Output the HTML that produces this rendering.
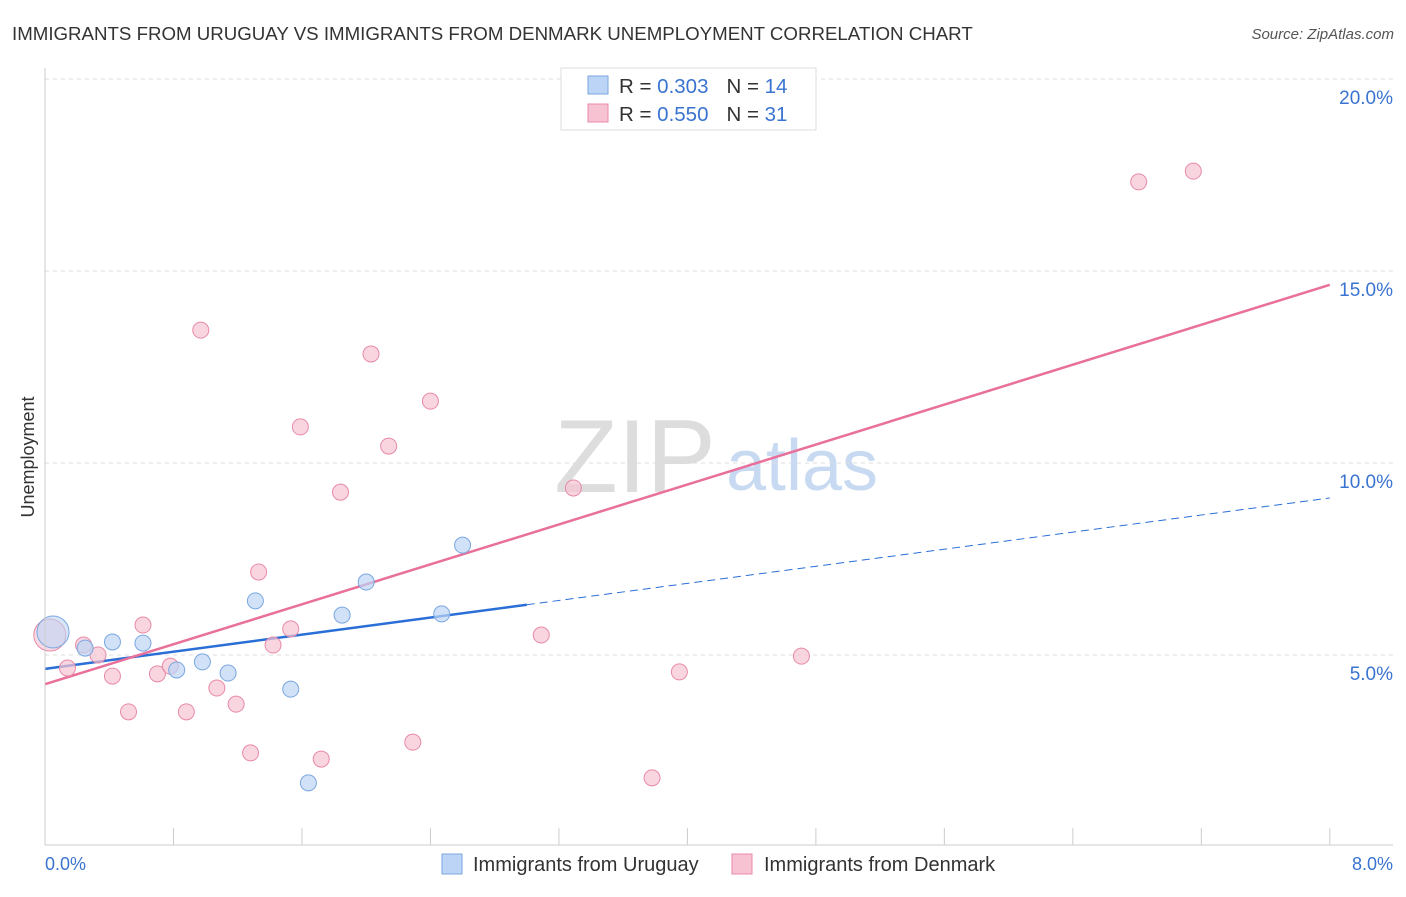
<!DOCTYPE html>
<html><head><meta charset="utf-8"><style>
body{margin:0;background:#fff;font-family:"Liberation Sans",sans-serif;}
svg text{font-family:"Liberation Sans",sans-serif;}
</style></head><body>
<svg width="1406" height="892" xmlns="http://www.w3.org/2000/svg">
<text x="12" y="40" font-size="18.7" fill="#333">IMMIGRANTS FROM URUGUAY VS IMMIGRANTS FROM DENMARK UNEMPLOYMENT CORRELATION CHART</text>
<text x="1394" y="39" font-size="15" fill="#555" font-style="italic" text-anchor="end">Source: ZipAtlas.com</text>
<text x="635" y="492" font-size="104" fill="#ddd" font-family="Liberation Serif" text-anchor="middle">ZIP</text>
<text x="802" y="490" font-size="72" fill="#c8daf2" text-anchor="middle">atlas</text>
<text transform="translate(34,457) rotate(-90)" font-size="18" fill="#333" text-anchor="middle">Unemployment</text>
<g id="grid"></g><g id="ticks"></g><g id="lines"></g><g id="pts"></g>
<line x1="45" y1="68" x2="45" y2="845" stroke="#ccc"/>
<line x1="45" y1="845" x2="1393" y2="845" stroke="#ccc"/>
<text x="45" y="870" font-size="18" fill="#3a74d0">0.0%</text>
<text x="1393" y="870" font-size="18" fill="#3a74d0" text-anchor="end">8.0%</text>
<g>
<rect x="561" y="68" width="255" height="62" fill="#fff" stroke="#ddd"/>
<rect x="588" y="76" width="20" height="18" fill="#bcd4f5" stroke="#7aa7e0"/>
<rect x="588" y="104" width="20" height="18" fill="#f7c3d3" stroke="#e88aa8"/>
<text x="619" y="93" font-size="20.5" fill="#333">R = <tspan fill="#3a74d0">0.303</tspan><tspan dx="18">N = </tspan><tspan fill="#3a74d0">14</tspan></text>
<text x="619" y="121" font-size="20.5" fill="#333">R = <tspan fill="#3a74d0">0.550</tspan><tspan dx="18">N = </tspan><tspan fill="#3a74d0">31</tspan></text>
</g>
<g>
<rect x="442" y="854" width="20" height="20" fill="#bcd4f5" stroke="#7aa7e0"/>
<text x="473" y="871" font-size="20" fill="#333">Immigrants from Uruguay</text>
<rect x="732" y="854" width="20" height="20" fill="#f7c3d3" stroke="#e88aa8"/>
<text x="764" y="871" font-size="20" fill="#333">Immigrants from Denmark</text>
</g>
</svg>
<script>
const yTicks=[5,10,15,20];
const yTickLabels=["5.0%","10.0%","15.0%","20.0%"];
const blueX=[0.05,0.25,0.42,0.61,0.82,0.98,1.14,1.31,1.53,1.64,1.85,2.00,2.47,2.60];
const blueY=[5.60,5.18,5.34,5.31,4.61,4.82,4.53,6.41,4.11,1.67,6.04,6.90,6.07,7.86];
const pinkX=[0.03,0.14,0.24,0.33,0.42,0.52,0.61,0.70,0.78,0.88,0.97,1.07,1.19,1.28,1.33,1.42,1.53,1.59,1.72,1.84,2.03,2.14,2.29,2.40,3.09,3.29,3.78,3.95,4.71,6.81,7.15];
const pinkY=[5.52,4.66,5.26,5.00,4.45,3.52,5.78,4.51,4.71,3.52,13.46,4.14,3.72,2.45,7.16,5.26,5.68,10.94,2.29,9.24,12.84,10.44,2.73,11.61,5.52,9.35,1.80,4.56,4.97,17.32,17.60];
const blueTrend=[4.64,9.09];
const pinkTrend=[4.24,14.64];
const xs=v=>45+v*160.6, ys=v=>847-v*38.4;
const NS="http://www.w3.org/2000/svg";
function mk(tag,attrs,parent){const e=document.createElementNS(NS,tag);for(const k in attrs)e.setAttribute(k,attrs[k]);document.getElementById(parent).appendChild(e);return e;}
yTicks.forEach((t,i)=>{
 const g=mk('line',{x1:45,x2:1393,y1:ys(t),y2:ys(t),stroke:'#ddd','stroke-dasharray':'4,4'},'grid');
 
 
 const tx=mk('text',{x:1393,y:ys(t)+25,'font-size':19,fill:'#3a74d0','text-anchor':'end'},'grid');
 tx.textContent=yTickLabels[i];
 
 
});
const gl=mk('line',{x1:45,x2:1393,y1:79,y2:79,stroke:'#ddd','stroke-dasharray':'4,4'},'grid');


for(let i=0;i<=10;i++){
 const t=mk('line',{x1:xs(i*0.8),x2:xs(i*0.8),y1:828,y2:845,stroke:'#ccc'},'ticks');
 
 
}
function addPts(X,Y,fill,stroke,name){
 X.forEach((x,i)=>{
  const big=i===0;
  const c=mk('circle',{cx:xs(x),cy:ys(Y[i]),r:big?16:8,fill:fill,'fill-opacity':big?0.6:0.7,stroke:stroke,'stroke-width':1},'pts');
  
  
 });
}
addPts(pinkX,pinkY,'#f7c3d3','#e88aa8','denmark-point');
addPts(blueX,blueY,'#bcd4f5','#7aa7e0','uruguay-point');
const bMid=3.0, bv=blueTrend[0]+(blueTrend[1]-blueTrend[0])*bMid/8;
const l1=mk('line',{x1:xs(0),y1:ys(blueTrend[0]),x2:xs(bMid),y2:ys(bv),stroke:'#2a6fd6','stroke-width':2.5},'lines');


const l2=mk('line',{x1:xs(bMid),y1:ys(bv),x2:xs(8),y2:ys(blueTrend[1]),stroke:'#2a6fd6','stroke-width':1,'stroke-dasharray':'8,5'},'lines');


const l3=mk('line',{x1:xs(0),y1:ys(pinkTrend[0]),x2:xs(8),y2:ys(pinkTrend[1]),stroke:'#e8709a','stroke-width':2.5},'lines');


</script>
</body></html>
